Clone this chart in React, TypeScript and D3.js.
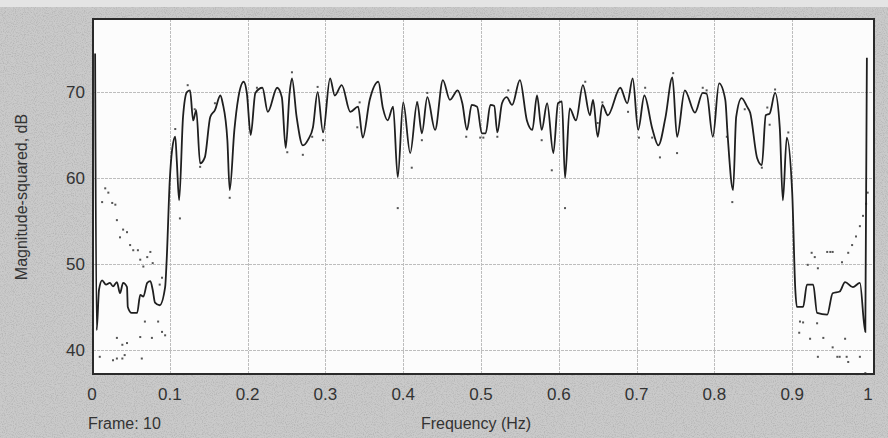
import React, { useRef, useEffect } from 'react';
import * as d3 from 'd3';

// spectrum of frame 10 (frequency in Hz, magnitude-squared in dB)
const freq = [
  0.004, 0.006, 0.009, 0.013, 0.018, 0.023, 0.027, 0.032, 0.036, 0.040,
  0.045, 0.046, 0.051, 0.058, 0.062, 0.066, 0.071, 0.075, 0.078, 0.081,
  0.087, 0.094, 0.096, 0.100, 0.103, 0.107, 0.109, 0.112, 0.117, 0.122,
  0.126, 0.130, 0.134, 0.139, 0.145, 0.152, 0.158, 0.165, 0.168, 0.174,
  0.177, 0.183, 0.188, 0.195, 0.199, 0.204, 0.210, 0.219, 0.226, 0.238,
  0.244, 0.249, 0.254, 0.257, 0.263, 0.271, 0.278, 0.284, 0.290, 0.297,
  0.306, 0.312, 0.321, 0.332, 0.342, 0.348, 0.357, 0.368, 0.374, 0.380,
  0.387, 0.393, 0.400, 0.409, 0.418, 0.424, 0.431, 0.441, 0.451, 0.460,
  0.470, 0.476, 0.482, 0.488, 0.495, 0.501, 0.506, 0.512, 0.517, 0.521,
  0.527, 0.533, 0.540, 0.550, 0.559, 0.566, 0.572, 0.578, 0.585, 0.593,
  0.599, 0.604, 0.608, 0.614, 0.622, 0.631, 0.640, 0.644, 0.650, 0.656,
  0.663, 0.679, 0.688, 0.695, 0.702, 0.710, 0.720, 0.728, 0.737, 0.746,
  0.752, 0.762, 0.775, 0.785, 0.790, 0.798, 0.806, 0.814, 0.817, 0.824,
  0.828, 0.835, 0.842, 0.846, 0.855, 0.861, 0.866, 0.871, 0.878, 0.884,
  0.888, 0.893, 0.900, 0.904, 0.906, 0.914, 0.919, 0.927, 0.932, 0.945,
  0.952, 0.961, 0.968, 0.978, 0.987, 0.994, 0.996
];
const magDb = [
  74.5, 42.3, 47.0, 48.1, 47.6, 47.8, 47.4, 47.9, 46.6, 47.8,
  47.3, 45.0, 44.3, 44.3, 46.4, 46.2, 47.8, 48.0, 47.0, 45.5,
  45.2, 47.3, 50.5, 59.8, 63.3, 64.8, 62.0, 57.4, 67.1, 70.0,
  70.2, 66.7, 67.9, 61.7, 62.4, 67.1, 67.9, 69.6, 68.7, 64.4,
  58.6, 65.6, 69.3, 71.2, 69.9, 65.0, 69.9, 70.5, 67.7, 70.5,
  69.4, 63.5, 69.9, 71.6, 67.1, 63.8, 64.5, 65.9, 70.0, 65.3,
  71.6, 69.6, 70.8, 67.7, 68.3, 64.7, 69.1, 71.2, 68.1, 66.7,
  68.3, 60.1, 68.8, 62.9, 68.8, 65.2, 69.4, 65.6, 71.4, 69.1,
  70.2, 68.7, 65.6, 68.5, 68.3, 65.2, 65.2, 68.5, 68.4, 65.3,
  68.7, 69.4, 68.5, 71.4, 66.7, 65.6, 69.6, 65.6, 68.7, 62.9,
  68.7, 68.9, 60.0, 68.1, 66.7, 70.8, 67.3, 69.1, 64.8, 68.5,
  67.3, 70.5, 68.7, 71.6, 65.6, 69.6, 65.8, 63.8, 67.0, 71.7,
  64.8, 70.2, 67.6, 69.9, 69.8, 64.8, 71.0, 69.1, 65.0, 58.6,
  67.1, 69.3, 68.3, 67.6, 62.3, 61.5, 67.3, 67.5, 69.9, 65.9,
  57.4, 64.7, 58.3, 47.0, 45.0, 45.0, 47.6, 47.6, 44.3, 44.1,
  46.6, 46.8, 47.9, 47.3, 47.8, 42.1, 74.0
];

// previous-frame samples shown as dots
const dotFreq = [
  0.017, 0.021, 0.013, 0.026, 0.030, 0.032, 0.040, 0.045, 0.036, 0.049,
  0.053, 0.059, 0.075, 0.071, 0.062, 0.066, 0.078, 0.090, 0.087, 0.068,
  0.085, 0.062, 0.077, 0.090, 0.094, 0.032, 0.045, 0.039, 0.010, 0.027,
  0.032, 0.039, 0.042, 0.064,
  0.107, 0.113, 0.123, 0.132, 0.139, 0.158, 0.177, 0.212, 0.251, 0.257,
  0.271, 0.283, 0.290, 0.297, 0.341, 0.344, 0.393, 0.411, 0.418, 0.424,
  0.431, 0.481, 0.499, 0.503, 0.521, 0.535, 0.578, 0.591, 0.608, 0.634,
  0.650, 0.656, 0.689, 0.703, 0.711, 0.720, 0.730, 0.747, 0.752, 0.785,
  0.790, 0.816, 0.823, 0.839, 0.861, 0.868, 0.871, 0.878, 0.895,
  0.925, 0.929, 0.933, 0.920, 0.945, 0.949, 0.952, 0.910, 0.914, 0.932,
  0.909, 0.923, 0.940, 0.968, 0.952, 0.933, 0.958, 0.961, 0.970, 0.972,
  0.987, 0.994, 0.964, 0.972, 0.977, 0.982, 0.987, 0.991, 0.995, 0.997
];
const dotDb = [
  58.8, 58.3, 57.2, 57.1, 56.9, 55.1, 54.0, 53.7, 53.1, 52.2,
  51.6, 51.6, 51.4, 50.8, 50.5, 49.7, 50.1, 48.4, 47.6, 43.3,
  43.3, 41.5, 41.4, 42.1, 41.7, 41.4, 40.8, 40.6, 39.2, 38.8,
  39.0, 39.0, 39.4, 39.0,
  65.7, 55.3, 70.8, 68.0, 61.3, 68.7, 57.7, 70.5, 63.0, 72.3,
  62.7, 64.8, 70.6, 64.4, 65.9, 68.8, 56.5, 61.2, 68.8, 64.4,
  69.9, 64.8, 64.7, 64.7, 64.8, 70.2, 64.4, 60.9, 56.5, 71.2,
  66.4, 68.8, 67.7, 64.7, 70.5, 64.7, 62.4, 72.2, 62.9, 70.5,
  70.2, 64.8, 57.2, 68.0, 61.2, 68.2, 66.2, 70.3, 65.3,
  51.3, 50.8, 49.5, 49.9, 51.4, 51.4, 51.4, 43.3, 43.2, 43.1,
  42.0, 41.3, 41.4, 41.3, 40.3, 39.2, 39.2, 39.2, 39.2, 38.6,
  39.2, 37.3, 50.2, 51.3, 52.2, 53.2, 54.4, 55.6, 57.0, 58.3
];

const xTicks = [0, 0.1, 0.2, 0.3, 0.4, 0.5, 0.6, 0.7, 0.8, 0.9, 1];
const xTickLabels = ['0', '0.1', '0.2', '0.3', '0.4', '0.5', '0.6', '0.7', '0.8', '0.9', '1'];
const yTicks = [40, 50, 60, 70];

const App = () => {
  const width = 888;
  const height = 438;
  const box = { left: 93, top: 19, right: 874, bottom: 374 };
  const container = useRef<HTMLDivElement>(null);

  useEffect(() => {
    if (!container.current) return;
    d3.select(container.current).selectAll('*').remove();

    const svg = d3.select(container.current)
      .append('svg')
      .attr('width', width)
      .attr('height', height)
      .style('position', 'absolute')
      .style('left', '0px')
      .style('top', '0px')
      .style('font-family', '"Liberation Sans", Arial, sans-serif');

    // scanned-paper grain
    const defs = svg.append('defs');
    const f = defs.append('filter').attr('id', 'grain')
      .attr('x', 0).attr('y', 0).attr('width', '100%').attr('height', '100%');
    f.append('feTurbulence').attr('type', 'fractalNoise')
      .attr('baseFrequency', 0.9).attr('numOctaves', 2).attr('seed', 3);
    f.append('feColorMatrix').attr('type', 'matrix')
      .attr('values', '0 0 0 0 0.35  0 0 0 0 0.35  0 0 0 0 0.35  0 0 0 2.5 -1.1');

    svg.append('rect').attr('width', width).attr('height', height).attr('fill', '#cacaca');
    svg.append('rect').attr('width', width).attr('height', height)
      .attr('filter', 'url(#grain)').attr('opacity', 0.5);
    svg.append('rect').attr('width', width).attr('height', 7).attr('fill', '#e4e4e4');

    const x = d3.scaleLinear().domain([0, 1]).range([92, 870]);
    const y = d3.scaleLinear().domain([37.2, 78.5]).range([box.bottom, box.top]);

    // plot area
    svg.append('rect')
      .attr('x', box.left).attr('y', box.top)
      .attr('width', box.right - box.left).attr('height', box.bottom - box.top)
      .attr('fill', '#fcfcfc');

    const grid = svg.append('g')
      .attr('stroke', '#bdbdbd')
      .attr('stroke-width', 1)
      .attr('stroke-dasharray', '3,1');
    grid.selectAll('line.v')
      .data(xTicks.slice(1, -1))
      .enter()
      .append('line')
      .attr('x1', d => Math.round(x(d)) + 0.5).attr('x2', d => Math.round(x(d)) + 0.5)
      .attr('y1', box.top).attr('y2', box.bottom);
    grid.selectAll('line.h')
      .data(yTicks)
      .enter()
      .append('line')
      .attr('x1', box.left).attr('x2', box.right)
      .attr('y1', d => Math.round(y(d)) + 0.5).attr('y2', d => Math.round(y(d)) + 0.5);

    // dots
    svg.append('g')
      .selectAll('rect')
      .data(dotFreq.map((d, i) => [d, dotDb[i]]))
      .enter()
      .append('rect')
      .attr('x', d => x(d[0]) - 1)
      .attr('y', d => y(d[1]) - 1)
      .attr('width', 2)
      .attr('height', 2)
      .attr('fill', '#555');

    // spectrum line
    const line = d3.line<number>()
      .x((d, i) => x(freq[i]))
      .y(d => y(d))
      .curve(d3.curveMonotoneX);
    svg.append('path')
      .datum(magDb)
      .attr('d', line)
      .attr('fill', 'none')
      .attr('stroke', '#1f1f1f')
      .attr('stroke-width', 1.8);

    // frame
    svg.append('rect')
      .attr('x', box.left).attr('y', box.top)
      .attr('width', box.right - box.left).attr('height', box.bottom - box.top)
      .attr('fill', 'none')
      .attr('stroke', '#2a2a2a')
      .attr('stroke-width', 2);

    // tick labels
    svg.append('g')
      .selectAll('text')
      .data(xTicks)
      .enter()
      .append('text')
      .attr('x', d => x(d) + (d === 1 ? -2 : 0))
      .attr('y', 400)
      .attr('text-anchor', 'middle')
      .attr('font-size', 17)
      .attr('fill', '#333')
      .text((d, i) => xTickLabels[i]);

    svg.append('g')
      .selectAll('text')
      .data(yTicks)
      .enter()
      .append('text')
      .attr('x', 85)
      .attr('y', d => y(d) + 6)
      .attr('text-anchor', 'end')
      .attr('font-size', 17)
      .attr('fill', '#333')
      .text(d => d);

    svg.append('text')
      .attr('x', 88).attr('y', 429)
      .attr('font-size', 16)
      .attr('fill', '#333')
      .text('Frame: 10');

    svg.append('text')
      .attr('x', 476).attr('y', 429)
      .attr('text-anchor', 'middle')
      .attr('font-size', 16)
      .attr('fill', '#333')
      .text('Frequency (Hz)');

    svg.append('text')
      .attr('transform', 'translate(27, 197) rotate(-90)')
      .attr('text-anchor', 'middle')
      .attr('font-size', 16)
      .attr('fill', '#333')
      .text('Magnitude-squared, dB');
  }, []);

  return <div ref={container}></div>;
};

export default App;
